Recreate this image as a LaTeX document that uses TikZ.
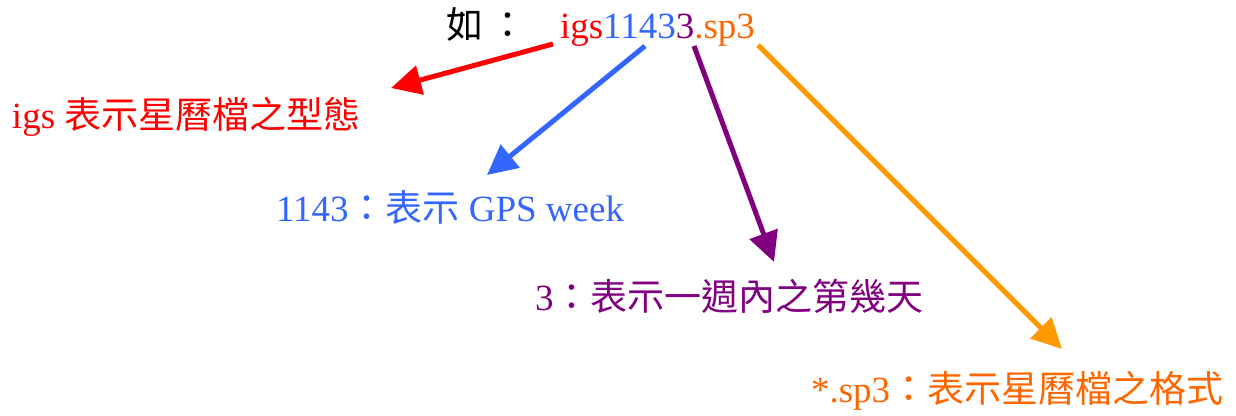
\documentclass[tikz,border=0pt]{standalone}
\usepackage{fontspec}
\setmainfont{Liberation Serif}
\newfontfamily\cjk{Noto Sans CJK TC}
\usetikzlibrary{arrows.meta}
\definecolor{cred}{HTML}{FF0000}
\definecolor{cblue}{HTML}{3366FF}
\definecolor{cpurple}{HTML}{800080}
\definecolor{corange}{HTML}{FF6600}
\definecolor{carrow}{HTML}{FF9900}
\begin{document}
\begin{tikzpicture}[x=1pt,y=-1pt,
  txt/.style={inner sep=0pt,outer sep=0pt,anchor=base west,font=\fontsize{37}{40}\selectfont},
  arr/.style={line width=5pt,-{Triangle[length=30pt,width=29pt]}}]
\path[use as bounding box] (0,0) rectangle (1236,415);
% top line
\node[txt] (ru) at (446,38) {\cjk 如\hspace{6pt}：};
\node[txt,text=cred] (igs) at (560,38) {igs};
\node[txt,text=cblue] (wk) at (igs.base east) {1143};
\node[txt,text=cpurple] (dy) at (wk.base east) {3};
\node[txt,text=corange] (ext) at (dy.base east) {.sp3};
% labels
\node[txt,text=cred] (l1) at (12,128) {igs {\cjk 表示星曆檔之型態}};
\node[txt,text=cblue] (l2) at (276,221) {1143{\cjk ：表示} GPS week};
\node[txt,text=cpurple] (l3) at (535,310) {3{\cjk ：表示一週內之第幾天}};
\node[txt,text=corange] (l4) at (811,402) {*.sp3{\cjk ：表示星曆檔之格式}};
% arrow ends
\coordinate (r0) at (553,44);  \coordinate (r1) at (391,88);
\coordinate (b0) at (645,46);  \coordinate (b1) at (487,175);
\coordinate (p0) at (694,46);  \coordinate (p1) at (774,262);
\coordinate (o0) at (758,45);  \coordinate (o1) at (1062,349);
\draw[arr,cred] (r0) -- (r1);
\draw[arr,cblue] (b0) -- (b1);
\draw[arr,cpurple] (p0) -- (p1);
\draw[arr,carrow] (o0) -- (o1);
\end{tikzpicture}
\end{document}
